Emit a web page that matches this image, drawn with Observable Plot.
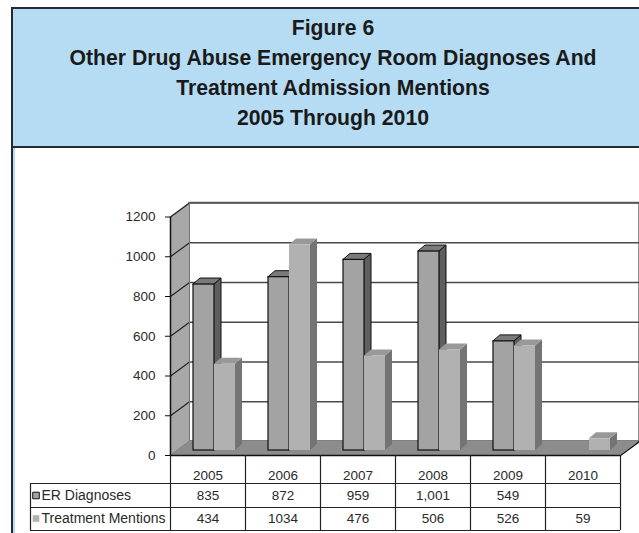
<!DOCTYPE html>
<html>
<head>
<meta charset="utf-8">
<script src="https://cdn.jsdelivr.net/npm/d3@7"></script>
<script src="https://cdn.jsdelivr.net/npm/@observablehq/plot@0.6"></script>
<style>
  html, body { margin: 0; padding: 0; background: #fff; overflow: hidden; }
  #page { position: relative; width: 639px; height: 533px; overflow: hidden; }
  #title {
    position: absolute; left: 11px; top: 7px; width: 660px; height: 137px;
    background: #b5dcf3; border: 2px solid #262a2e; box-sizing: content-box;
    font-family: "Liberation Sans", Arial, sans-serif; font-weight: bold; font-size: 21.2px;
    color: #1a1a1a; text-align: left; line-height: 30px;
  }
  #title div { width: 640px; text-align: center; }
  #title .inner { padding-top: 4px; }
  #frameDark { position: absolute; left: 11px; top: 146px; width: 2px; height: 400px; background: #262a2e; }
  #frameBlue { position: absolute; left: 13px; top: 148px; width: 2px; height: 400px; background: #b5dcf3; }
  #chart { position: absolute; left: 0; top: 150px; }
</style>
</head>
<body>
<div id="page">
  <div id="title"><div class="inner">
    <div>Figure 6</div>
    <div>Other Drug Abuse Emergency Room Diagnoses And</div>
    <div>Treatment Admission Mentions</div>
    <div>2005 Through 2010</div>
  </div></div>
  <div id="frameDark"></div>
  <div id="frameBlue"></div>
  <div id="chart"></div>
</div>
<script>
// ---- data ----
const years = ["2005", "2006", "2007", "2008", "2009", "2010"];
const erDiagnoses = [835, 872, 959, 1001, 549, null];
const treatmentMentions = [434, 1034, 476, 506, 526, 59];
const seriesNames = ["ER Diagnoses", "Treatment Mentions"];
const yTicks = [0, 200, 400, 600, 800, 1000, 1200];

// ---- layout helpers (pixel -> data units) ----
const PX = 75;              // px per category slot
const PY = 238.5 / 1200;    // px per value unit
const ux = p => p / PX;
const uy = p => p / PY;
const n = years.length;

// bars table built from the arrays
const seriesValues = [erDiagnoses, treatmentMentions];
const barOffset = [16, 37];  // px from slot start (front plane)
const barWidth = 21;
const depthX = 7, depthY = 6; // bar depth
const bars = [];
seriesValues.forEach((vals, s) => {
  vals.forEach((v, i) => {
    if (v == null) return;
    bars.push({series: seriesNames[s], s, i, value: v,
      x1: i + ux(barOffset[s]), x2: i + ux(barOffset[s] + barWidth), id: s + "-" + i});
  });
});
const sideRows = bars.flatMap(b => [
  {id: b.id, s: b.s, x: b.x2, y1: 0, y2: b.value},
  {id: b.id, s: b.s, x: b.x2 + ux(depthX), y1: uy(depthY), y2: b.value + uy(depthY)}
]);
const topRows = bars.flatMap(b => [
  {id: b.id, s: b.s, y: b.value, x1: b.x1, x2: b.x2},
  {id: b.id, s: b.s, y: b.value + uy(depthY), x1: b.x1 + ux(depthX), x2: b.x2 + ux(depthX)}
]);

const wallDX = 19, wallDY = -14;
const barDX = 7, barDY = -5;

const styleFront = [
  {fill: "#a3a3a3", stroke: "#111", strokeWidth: 1.2},
  {fill: "#b1b1b1", stroke: "none", strokeWidth: 0}
];
const styleSide = [
  {fill: "#5f5f5f", stroke: "#111", strokeWidth: 1},
  {fill: "#747474", stroke: "none", strokeWidth: 0}
];
const styleTop = [
  {fill: "#7a7a7a", stroke: "#111", strokeWidth: 1},
  {fill: "#999999", stroke: "none", strokeWidth: 0}
];
const swatch = [
  {fill: "#a3a3a3", stroke: "#111"},
  {fill: "#b1b1b1", stroke: "none"}
];

const barMarks = [];
[0, 1].forEach(s => {
  barMarks.push(Plot.areaY(sideRows.filter(d => d.s === s), {x: "x", y1: "y1", y2: "y2", z: "id", dx: barDX, dy: barDY, ...styleSide[s]}));
  barMarks.push(Plot.areaX(topRows.filter(d => d.s === s), {y: "y", x1: "x1", x2: "x2", z: "id", dx: barDX, dy: barDY, ...styleTop[s]}));
  barMarks.push(Plot.rect(bars.filter(d => d.s === s), {x1: "x1", x2: "x2", y1: 0, y2: "value", dx: barDX, dy: barDY, ...styleFront[s]}));
});

// table geometry (px below the front baseline)
const rowLines = [28, 52, 75];
const rowCenters = [20, 40, 63];
const tableLeft = ux(30 - 170);
const fmtER = d3.format(",");

const labelMarks = [];
seriesNames.forEach((name, s) => {
  labelMarks.push(Plot.dot([name], {x: ux(35.5 - 170), frameAnchor: "bottom", dy: rowCenters[s + 1], symbol: "square", r: 3.7, strokeWidth: 1, ...swatch[s]}));
  labelMarks.push(Plot.text([name], {x: ux(41 - 170), frameAnchor: "bottom", lineAnchor: "middle", dy: rowCenters[s + 1], text: d => d, textAnchor: "start", fontSize: 14}));
});

const chart = Plot.plot({
  width: 639, height: 383,
  marginLeft: 170, marginRight: 19, marginTop: 66.5, marginBottom: 78,
  x: {type: "linear", domain: [0, n], axis: null},
  y: {domain: [0, 1200], axis: null},
  style: {fontFamily: "'Liberation Sans', Arial, sans-serif", fontSize: "13.5px", color: "#2a2a2a", background: "transparent", overflow: "visible"},
  marks: [
    // back wall
    Plot.rect([0], {x1: 0, x2: n, y1: 0, y2: 1200, dx: wallDX, dy: wallDY, fill: "#fff", stroke: "#707070", strokeWidth: 1.5}),
    Plot.ruleY(yTicks, {x1: 0, x2: n, dx: wallDX, dy: wallDY, stroke: "#4a4a4a", strokeWidth: 1.6}),
    // left side wall
    Plot.areaY([{x: 0, y1: 0, y2: 1200}, {x: ux(wallDX), y1: uy(-wallDY), y2: 1200 + uy(-wallDY)}],
      {x: "x", y1: "y1", y2: "y2", fill: "#a8a8a8"}),
    Plot.link(yTicks, {x1: 0, y1: d => d, x2: ux(wallDX), y2: d => d + uy(-wallDY), stroke: "#222", strokeWidth: 1.2}),
    Plot.ruleX([ux(wallDX)], {y1: uy(-wallDY), y2: 1200 + uy(-wallDY), stroke: "#777", strokeWidth: 1}),
    // floor
    Plot.areaX([{y: 0, x1: 0, x2: n}, {y: uy(-wallDY), x1: ux(wallDX), x2: n + ux(wallDX)}],
      {y: "y", x1: "x1", x2: "x2", fill: "#8c8c8c"}),
    Plot.link([0], {x1: n, y1: 0, x2: n + ux(wallDX), y2: uy(-wallDY), stroke: "#111", strokeWidth: 1.3}),
    // bars
    ...barMarks,
    // y axis
    Plot.ruleX([0], {y1: 0, y2: 1200, stroke: "#111", strokeWidth: 1.5}),
    Plot.axisY(yTicks, {tickSize: 5, tickPadding: 10, tickFormat: d => String(d), stroke: "#111", fill: "#2a2a2a", fontSize: 13.5}),
    // data table lines
    Plot.ruleY([0], {x1: 0, x2: n, stroke: "#111", strokeWidth: 1.3}),
    Plot.ruleY(rowLines.map(p => -uy(p)), {x1: tableLeft, x2: n, stroke: "#222", strokeWidth: 1.2}),
    Plot.ruleX(d3.range(n + 1), {y1: 0, y2: -uy(75), stroke: "#222", strokeWidth: 1.2}),
    Plot.ruleX([tableLeft], {y1: -uy(28), y2: -uy(75), stroke: "#222", strokeWidth: 1.2}),
    // table text
    Plot.text(years, {x: (d, i) => i + 0.5, frameAnchor: "bottom", lineAnchor: "middle", dy: rowCenters[0], text: d => d}),
    Plot.text(erDiagnoses, {x: (d, i) => i + 0.5, frameAnchor: "bottom", lineAnchor: "middle", dy: rowCenters[1], text: d => d == null ? "" : fmtER(d)}),
    Plot.text(treatmentMentions, {x: (d, i) => i + 0.5, frameAnchor: "bottom", lineAnchor: "middle", dy: rowCenters[2], text: d => d == null ? "" : String(d)}),
    ...labelMarks
  ]
});
document.getElementById("chart").appendChild(chart);
</script>
</body>
</html>
